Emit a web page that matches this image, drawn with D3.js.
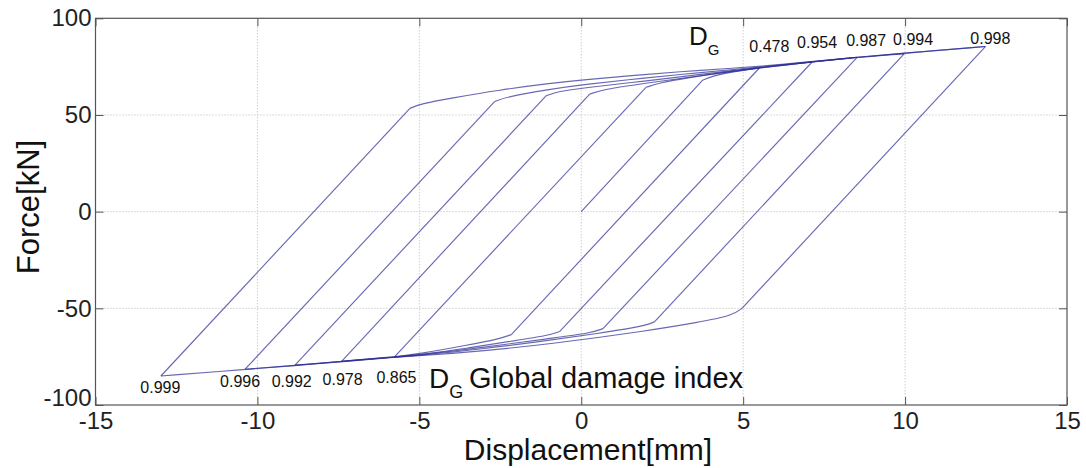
<!DOCTYPE html>
<html><head><meta charset="utf-8">
<script src="https://cdn.jsdelivr.net/npm/d3@7"></script>
<style>
html,body{margin:0;padding:0;background:#fff;}
svg{display:block;font-family:"Liberation Sans",Arial,sans-serif;}
</style></head>
<body><svg id="c" width="1086" height="468"></svg>
<script>
// ---- data (displacement mm, force kN) ----
const xTicks = [-15, -10, -5, 0, 5, 10, 15];
const yTicks = [-100, -50, 0, 50, 100];

// loading branches (towards positive peaks): elastic start, yield kink, post-yield points
const load0 = [[0,0],[3.75,68],[4.05,70.1],[4.6,72.1],[5.5,74.3]];
const load1 = [[-5.76,-75],[2.0,64.3],[2.4,66.6],[3.3,69.3],[4.5,72.3],[5.5,74.3],[7.13,77.4]];
const load2 = [[-7.4,-77.4],[0.26,60.8],[0.65,63.1],[2,66.5],[3.65,70.2],[5.5,74.4],[7.13,77.4],[8.52,79.8]];
const load3 = [[-8.84,-79.4],[-1.08,60],[-0.7,62.2],[0,63.9],[2,67.6],[3.65,70.9],[5.5,74.6],[7.13,77.4],[8.52,79.8],[9.97,81.6]];
const load4 = [[-10.38,-81.5],[-2.67,57],[-2.3,59.4],[-1,63.2],[0,65.6],[2,69.2],[3.65,71.9],[5.5,74.8],[7.13,77.5],[8.52,79.9],[9.97,81.9],[12.48,85.4]];
const load5 = [[-12.98,-85],[-5.29,53.4],[-4.95,55.8],[-4.06,58.6],[-2.52,63],[-0.98,66.3],[0,68.1],[2,71],[3.65,73.1],[5.5,75.1],[7.13,77.6],[8.52,79.9],[9.97,82],[12.48,85.4]];

// unloading branches (towards negative peaks)
const unload1 = [[5.5,74.3],[-2.16,-63.6],[-2.55,-65.9],[-3.5,-69],[-5,-73.6],[-5.76,-75]];
const unload2 = [[7.13,77.4],[-0.67,-62],[-1.05,-64.1],[-2,-66.6],[-3.5,-70.6],[-5,-74],[-5.76,-75],[-7.4,-77.4]];
const unload3 = [[8.52,79.8],[0.67,-60.5],[0.3,-62.8],[-1,-65.6],[-3,-70.2],[-5,-74.2],[-5.76,-75.1],[-7.4,-77.4],[-8.84,-79.4]];
const unload4 = [[9.97,81.6],[2.26,-57],[1.9,-59.4],[0.5,-63],[-1,-66.6],[-3,-70.9],[-5,-74.4],[-5.76,-75.2],[-7.4,-77.5],[-8.84,-79.5],[-10.38,-81.5]];
const unload5 = [[12.48,85.4],[4.97,-49.9],[4.67,-53.8],[3.6,-57.3],[2.1,-61.5],[-0.98,-68.5],[-3,-72],[-5,-74.6],[-5.76,-75.3],[-7.4,-77.6],[-8.84,-79.6],[-10.38,-81.6],[-12.98,-85]];

const branches = [load0, load1, load2, load3, load4, load5, unload1, unload2, unload3, unload4, unload5];

// damage index annotations
const topPeaks = [[5.5,74.3],[7.13,77.4],[8.52,79.8],[9.97,81.6],[12.48,85.4]];
const topLabels = ["0.478","0.954","0.987","0.994","0.998"];
const bottomPeaks = [[-5.76,-75],[-7.4,-77.4],[-8.84,-79.4],[-10.38,-81.5],[-12.98,-85]];
const bottomLabels = ["0.865","0.978","0.992","0.996","0.999"];

// label pixel offsets from their peaks (layout only)
const topOffsets = [[10,-16],[5,-14],[9,-11.5],[9,-9],[5,-2.6]];
const bottomOffsets = [[1.7,26.6],[1,23.7],[-3.3,21.5],[-5,18],[-0.6,17]];

// ---- drawing ----
const svg = d3.select("#c");
svg.append("rect").attr("width",1086).attr("height",468).attr("fill","#fff");
const L = 95.5, R = 1067, T = 18.3, B = 405;
const x = d3.scaleLinear().domain([-15,15]).range([L,R]);
const y = d3.scaleLinear().domain([-100,100]).range([B,T]);

// grid
const g = svg.append("g");
g.selectAll("line.gx").data(xTicks.slice(1,-1)).join("line")
  .attr("x1",d=>x(d)).attr("x2",d=>x(d)).attr("y1",T).attr("y2",B)
  .attr("stroke","#b8b8b8").attr("stroke-width",1).attr("stroke-dasharray","1,2");
g.selectAll("line.gy").data(yTicks.slice(1,-1)).join("line")
  .attr("y1",d=>y(d)).attr("y2",d=>y(d)).attr("x1",L).attr("x2",R)
  .attr("stroke","#b8b8b8").attr("stroke-width",1).attr("stroke-dasharray","1,2");

// curves
const straight = d3.line().x(d=>x(d[0])).y(d=>y(d[1]));
const smooth = d3.line().x(d=>x(d[0])).y(d=>y(d[1])).curve(d3.curveBasis);
const cg = svg.append("g").attr("fill","none").attr("stroke","#2e2e96")
  .attr("stroke-width",1.15).attr("stroke-opacity",0.72).attr("stroke-linejoin","round");
branches.forEach(b=>{
  cg.append("path").attr("d", straight(b.slice(0,2)));
  cg.append("path").attr("d", smooth(b.slice(1)));
});

// axes
const tickFont = 24;
const fmt = d => String(d);
const ax = svg.append("g").attr("transform",`translate(0,${B})`)
  .call(d3.axisBottom(x).tickValues(xTicks).tickSizeInner(-8).tickSizeOuter(0).tickPadding(7).tickFormat(fmt));
const ay = svg.append("g").attr("transform",`translate(${L},0)`)
  .call(d3.axisLeft(y).tickValues(yTicks).tickSizeInner(-8).tickSizeOuter(0).tickPadding(4).tickFormat(fmt));
const axT = svg.append("g").attr("transform",`translate(0,${T})`)
  .call(d3.axisTop(x).tickValues(xTicks).tickSizeInner(-8).tickSizeOuter(0).tickFormat(""));
const ayR = svg.append("g").attr("transform",`translate(${R},0)`)
  .call(d3.axisRight(y).tickValues(yTicks).tickSizeInner(-8).tickSizeOuter(0).tickFormat(""));
[ax,ay,axT,ayR].forEach(a=>{
  a.select(".domain").remove();
  a.selectAll(".tick line").attr("stroke","#555");
  a.selectAll("text").attr("font-size",tickFont).attr("fill","#222")
    .attr("font-family","'Liberation Sans',Arial,sans-serif");
});
// -100 label nudged up as in the reference
ay.selectAll(".tick").filter(d=>d===-100).select("text").attr("dy","0em");
// box
svg.append("rect").attr("x",L).attr("y",T).attr("width",R-L).attr("height",B-T)
  .attr("fill","none").attr("stroke","#555").attr("stroke-width",1.2);

// damage labels
svg.append("g").selectAll("text").data(topLabels).join("text")
  .attr("x",(d,i)=>x(topPeaks[i][0])+topOffsets[i][0])
  .attr("y",(d,i)=>y(topPeaks[i][1])+topOffsets[i][1])
  .attr("text-anchor","middle").attr("font-size",16).attr("fill","#111").text(d=>d);
svg.append("g").selectAll("text").data(bottomLabels).join("text")
  .attr("x",(d,i)=>x(bottomPeaks[i][0])+bottomOffsets[i][0])
  .attr("y",(d,i)=>y(bottomPeaks[i][1])+bottomOffsets[i][1])
  .attr("text-anchor","middle").attr("font-size",16).attr("fill","#111").text(d=>d);

// D_G annotations
const t1 = svg.append("text").attr("x",689).attr("y",45).attr("fill","#111");
t1.append("tspan").attr("font-size",26).text("D");
t1.append("tspan").attr("font-size",15).attr("dy",10).text("G");
const t2 = svg.append("text").attr("x",429).attr("y",388).attr("fill","#111");
t2.append("tspan").attr("font-size",28).text("D");
t2.append("tspan").attr("font-size",18).attr("dy",10).text("G");
svg.append("text").attr("x",469).attr("y",388).attr("font-size",29).attr("fill","#111").text("Global damage index");

// axis titles
svg.append("text").attr("x",588).attr("y",460).attr("text-anchor","middle")
  .attr("font-size",30).attr("fill","#111").text("Displacement[mm]");
svg.append("text").attr("transform","translate(39,207) rotate(-90)").attr("text-anchor","middle")
  .attr("font-size",31).attr("fill","#111").text("Force[kN]");
</script></body></html>
